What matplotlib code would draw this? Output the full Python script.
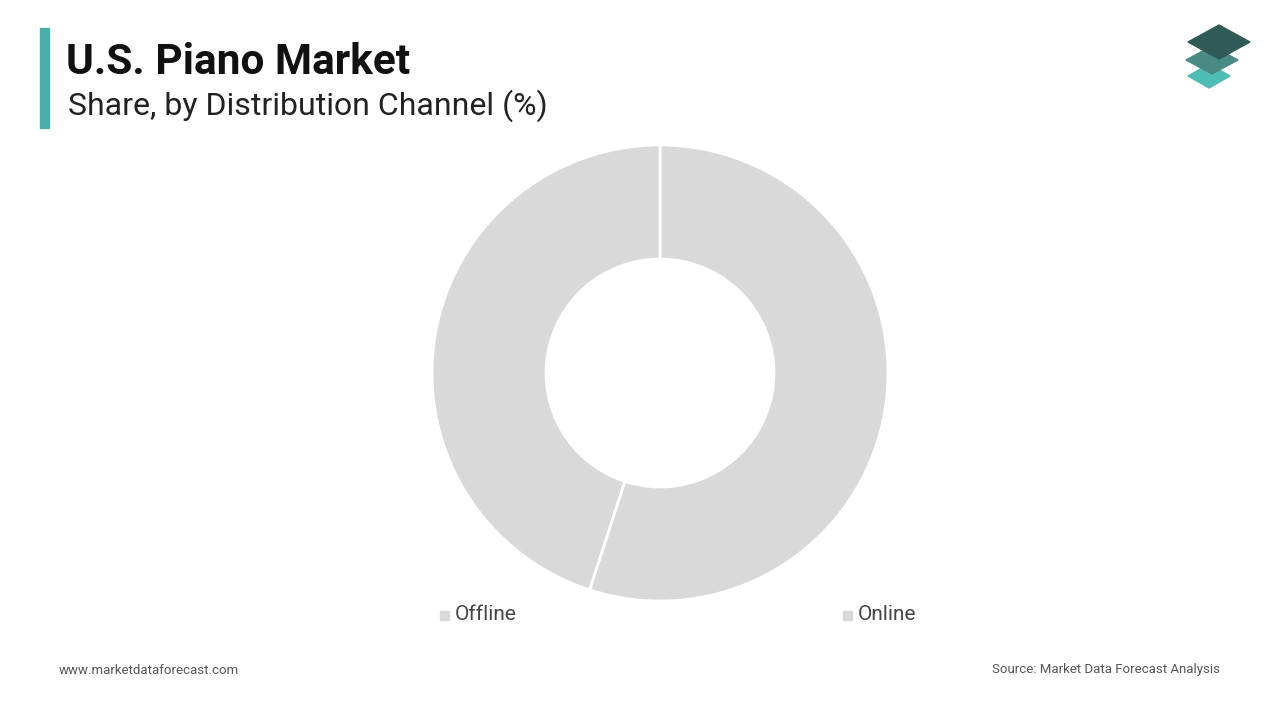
import matplotlib
matplotlib.use("Agg")
import matplotlib.pyplot as plt
from matplotlib.patches import Polygon, Rectangle

labels = ["Offline", "Online"]
values = [55, 45]
colors = ["#d9d9d9", "#d9d9d9"]

plt.rcParams['font.family'] = ['Roboto', 'DejaVu Sans']
fig = plt.figure(figsize=(12.8, 7.2), dpi=100)
fig.patch.set_facecolor("white")

# donut: center (660,373), outer r 228 px
cx, cy, r = 660/1280, 1-373/720, 228
w, h = 2*r/1280, 2*r/720
ax = fig.add_axes([cx-w/2, cy-h/2, w, h])
ax.pie(values, colors=colors, startangle=90, counterclock=False, radius=1,
       wedgeprops=dict(width=0.5, edgecolor="white", linewidth=2))
ax.set_xlim(-1, 1); ax.set_ylim(-1, 1)
ax.set_aspect("equal")
ax.axis("off")

# title
fig.add_artist(Rectangle((40/1280, 1-128/720), 9/1280, 100/720, color="#4aafaa", transform=fig.transFigure))
fig.text(66/1280, 1-62/720, "U.S. Piano Market", fontsize=30.5, fontweight="bold", va="center", color="#111111")
fig.text(68/1280, 1-106/720, "Share, by Distribution Channel (%)", fontsize=23, va="center", color="#222222")

# legend
for x, lab in [(440, "Offline"), (843, "Online")]:
    fig.add_artist(Rectangle((x/1280, 1-620/720), 9/1280, 9/720, color="#d9d9d9", transform=fig.transFigure))
    fig.text((x+15)/1280, 1-615/720, lab, fontsize=15, va="center", color="#444444")

fig.text(59/1280, 1-670/720, "www.marketdataforecast.com", fontsize=9.5, va="center", color="#555555")
fig.text(1220/1280, 1-670/720, "Source: Market Data Forecast Analysis", fontsize=9.5, va="center", ha="right", color="#555555")

# logo
def diamond(xc, yc, hw, hh, col):
    pts = [(xc-hw, yc), (xc, yc+hh), (xc+hw, yc), (xc, yc-hh)]
    fig.add_artist(Polygon([(x/1280, 1-y/720) for x, y in pts], closed=True, color=col, transform=fig.transFigure))
diamond(1209, 76, 21, 12, "#4dbdb5")
diamond(1212, 60, 26, 14, "#4a8a84")
diamond(1219, 42, 31, 17, "#2f5a55")

fig.savefig("out.png", dpi=100)
